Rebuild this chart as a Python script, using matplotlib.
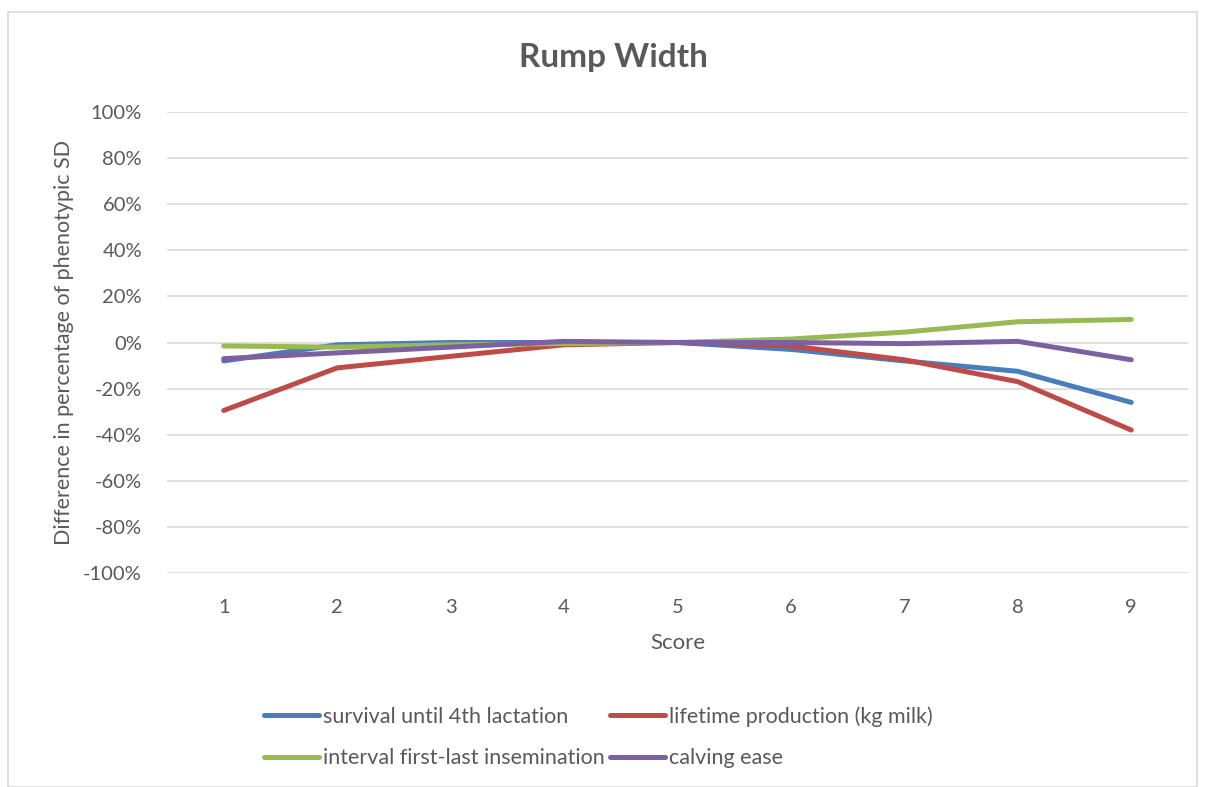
import matplotlib.pyplot as plt
from matplotlib.patches import Rectangle
from matplotlib.ticker import FuncFormatter

# ----------------------------
# Данные
# ----------------------------
scores = [1, 2, 3, 4, 5, 6, 7, 8, 9]
survival = [-8, -1, 0, 0, 0, -3, -8, -12.5, -26]
lifetime = [-29.5, -11, -6, -1, 0, -1.5, -7.5, -17, -38]
interval = [-1.5, -2, -1, -0.5, 0, 1.5, 4.5, 9, 10]
calving = [-7, -4.5, -2, 0.5, 0, 0, -0.5, 0.5, -7.5]

labels = ["survival until 4th lactation", "lifetime production (kg milk)",
          "interval first-last insemination", "calving ease"]
colors = ["#4A7EBB", "#BE4B48", "#98B954", "#7D60A0"]

plt.rcParams["font.family"] = ["Lato", "DejaVu Sans"]
TXT = "#595959"

W, H = 1207, 787
fig = plt.figure(figsize=(W / 100, H / 100), dpi=100)

# рамка диаграммы
fig.patches.append(Rectangle((8 / W, 0), 1189 / W, 1 - 12 / H, transform=fig.transFigure,
                             fill=False, edgecolor="#D9D9D9", linewidth=1.2))

ax = fig.add_axes([167 / W, 1 - 573 / H, (1188 - 167) / W, (573 - 112) / H])

lines = []
for ys, lab, c in zip([survival, lifetime, interval, calving], labels, colors):
    ln, = ax.plot(scores, ys, color=c, linewidth=3.6, label=lab, solid_capstyle="round")
    lines.append(ln)

ax.set_xlim(0.5, 9.5)
ax.set_ylim(-100, 100)
ax.set_yticks(range(-100, 101, 20))
ax.set_xticks(scores)
ax.yaxis.set_major_formatter(FuncFormatter(lambda v, p: f"{int(v)}%"))
ax.grid(axis="y", color="#D9D9D9", linewidth=1.2)
ax.set_axisbelow(True)
for s in ax.spines.values():
    s.set_visible(False)
ax.tick_params(length=0, labelsize=14.5, labelcolor=TXT)
ax.tick_params(axis="x", pad=19)
ax.tick_params(axis="y", pad=18)

ax.set_xlabel("Score", fontsize=16, color=TXT, labelpad=12)
ax.set_ylabel("Difference in percentage of phenotypic SD", fontsize=15.5, color=TXT)
ax.yaxis.set_label_coords((74 - 167) / (1188 - 167), 0.5)
fig.text(613 / W, 1 - 57 / H, "Rump Width", fontsize=24, fontweight="bold",
         color=TXT, ha="center", va="center")

order = [lines[0], lines[2], lines[1], lines[3]]
fig.legend(order, [l.get_label() for l in order], ncol=2, frameon=False,
           loc="center left", bbox_to_anchor=(253 / W, 1 - 737 / H), borderpad=0,
           fontsize=15.5, labelcolor=TXT, handlelength=2.55, handletextpad=0.2,
           columnspacing=0.25, labelspacing=1.0)

plt.savefig("out.png", dpi=100)
